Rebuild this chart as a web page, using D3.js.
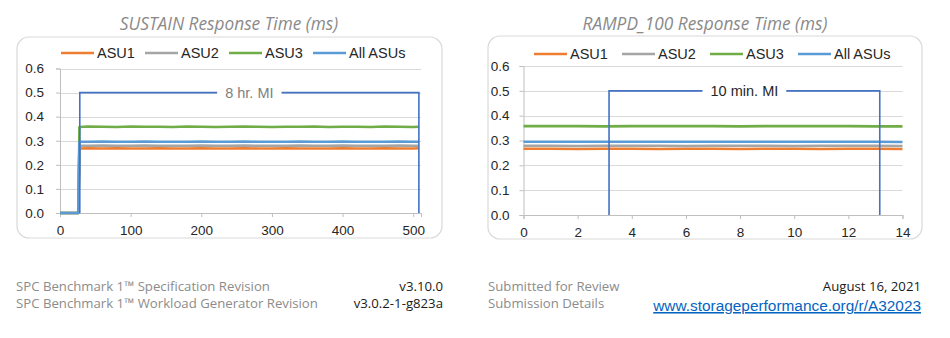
<!DOCTYPE html>
<html>
<head>
<meta charset="utf-8">
<script src="https://cdn.jsdelivr.net/npm/d3@7/dist/d3.min.js"></script>
<style>
  html, body { margin: 0; padding: 0; background: #ffffff; }
  svg { display: block; }
</style>
</head>
<body>
<svg id="chart" width="950" height="338"></svg>
<script>
// ---- Data ---------------------------------------------------------------
const seriesNames = ["ASU1", "ASU2", "ASU3", "All ASUs"];
const seriesColors = ["#ED7D31", "#A5A5A5", "#70AD47", "#5B9BD5"];

// SUSTAIN phase, elapsed minutes
const sustainTime = [0, 26, 27.5, 40, 60, 80, 100, 120, 140, 160, 180, 200, 220, 240,
  260, 280, 300, 320, 340, 360, 380, 400, 420, 440, 460, 480, 500, 508];
const sustainASU1 = [0, 0, 0.268, 0.269, 0.268, 0.269, 0.268, 0.268, 0.269, 0.268, 0.268,
  0.269, 0.268, 0.268, 0.269, 0.268, 0.268, 0.269, 0.268, 0.268, 0.268, 0.269, 0.268,
  0.268, 0.269, 0.268, 0.268, 0.269];
const sustainASU2 = [0, 0, 0.279, 0.279, 0.280, 0.279, 0.279, 0.280, 0.279, 0.279, 0.279,
  0.280, 0.279, 0.279, 0.280, 0.279, 0.279, 0.279, 0.280, 0.279, 0.279, 0.280, 0.279,
  0.279, 0.279, 0.280, 0.279, 0.279];
const sustainASU3 = [0, 0, 0.357, 0.359, 0.358, 0.357, 0.359, 0.358, 0.358, 0.357, 0.359,
  0.358, 0.357, 0.358, 0.359, 0.358, 0.357, 0.358, 0.358, 0.359, 0.357, 0.358, 0.358,
  0.357, 0.359, 0.358, 0.357, 0.358];
const sustainAll = [0, 0, 0.296, 0.296, 0.297, 0.296, 0.296, 0.297, 0.296, 0.296, 0.296,
  0.297, 0.296, 0.296, 0.297, 0.296, 0.296, 0.296, 0.297, 0.296, 0.296, 0.297, 0.296,
  0.296, 0.296, 0.297, 0.296, 0.296];
const sustainMI = [28, 508];
const sustainTicks = [0, 100, 200, 300, 400, 500];

// RAMPD_100 phase, elapsed minutes
const rampTime = [0, 1, 2, 3, 4, 5, 6, 7, 8, 9, 10, 11, 12, 13, 14];
const rampASU1 = [0.267, 0.267, 0.266, 0.267, 0.267, 0.266, 0.267, 0.267, 0.266, 0.267,
  0.267, 0.266, 0.267, 0.267, 0.266];
const rampASU2 = [0.279, 0.279, 0.278, 0.279, 0.279, 0.279, 0.278, 0.279, 0.279, 0.279,
  0.278, 0.279, 0.279, 0.279, 0.278];
const rampASU3 = [0.358, 0.358, 0.358, 0.357, 0.358, 0.358, 0.358, 0.358, 0.357, 0.358,
  0.358, 0.358, 0.358, 0.357, 0.357];
const rampAll = [0.295, 0.295, 0.295, 0.295, 0.295, 0.295, 0.295, 0.295, 0.295, 0.295,
  0.295, 0.295, 0.295, 0.295, 0.294];
const rampMI = [3.16, 13.16];
const rampTicks = [0, 2, 4, 6, 8, 10, 12, 14];

const yTicks = [0, 0.1, 0.2, 0.3, 0.4, 0.5, 0.6];
const miLevel = 0.5;

// ---- Drawing ------------------------------------------------------------
const svg = d3.select("#chart");
svg.append("rect").attr("width", 950).attr("height", 338).attr("fill", "#ffffff");

const AXIS_FONT = "Liberation Sans, Arial, sans-serif";
const BODY_FONT = "Open Sans, Lato, sans-serif";

function drawPanel(p) {
  const g = svg.append("g");

  // frame
  g.append("rect")
    .attr("x", p.box[0]).attr("y", p.box[1])
    .attr("width", p.box[2]).attr("height", p.box[3])
    .attr("rx", 12).attr("ry", 12)
    .attr("fill", "#ffffff").attr("stroke", "#d9d9d9").attr("stroke-width", 1.2);

  // title
  g.append("text")
    .attr("x", p.titleX).attr("y", p.titleY)
    .attr("text-anchor", "middle")
    .attr("font-family", BODY_FONT).attr("font-style", "italic")
    .attr("font-size", p.titleSize).attr("fill", "#8a8a8a")
    .text(p.title);

  const x = d3.scaleLinear().domain(p.xDomain).range([p.plot[0], p.plot[1]]);
  const y = d3.scaleLinear().domain([0, 0.6]).range([p.plot[3], p.plot[2]]);

  // horizontal gridlines
  g.append("g").selectAll("line").data(yTicks.slice(1)).join("line")
    .attr("x1", p.plot[0]).attr("x2", p.plot[1])
    .attr("y1", d => Math.round(y(d)) + 0.5).attr("y2", d => Math.round(y(d)) + 0.5)
    .attr("stroke", "#d9d9d9").attr("stroke-width", 1);

  // y axis
  const yAxis = g.append("g")
    .attr("transform", `translate(${p.plot[0]},0)`)
    .call(d3.axisLeft(y).tickValues(yTicks).tickFormat(d3.format(".1f"))
      .tickSize(4).tickPadding(p.yPad));
  // x axis
  const xAxis = g.append("g")
    .attr("transform", `translate(0,${p.plot[3]})`)
    .call(d3.axisBottom(x).tickValues(p.xTicks).tickFormat(d3.format("d"))
      .tickSize(4).tickPadding(5));
  [yAxis, xAxis].forEach(a => {
    a.select(".domain").attr("stroke", "#bfbfbf");
    a.selectAll(".tick line").attr("stroke", "#bfbfbf");
    a.selectAll(".tick text")
      .attr("font-family", AXIS_FONT).attr("font-size", 13.5).attr("fill", "#262626");
  });
  xAxis.selectAll(".tick text").attr("dy", "0.95em");

  // series lines
  const line = d3.line().x(d => x(d[0])).y(d => y(d[1]));
  p.series.forEach((vals, i) => {
    g.append("path")
      .datum(p.time.map((t, k) => [t, vals[k]]))
      .attr("d", line)
      .attr("fill", "none")
      .attr("stroke", seriesColors[i])
      .attr("stroke-width", 2.6)
      .attr("stroke-linejoin", "round");
  });

  // measurement interval bracket
  const mi = [[p.mi[0], 0], [p.mi[0], miLevel], [p.mi[1], miLevel], [p.mi[1], 0]];
  g.append("path")
    .datum(mi)
    .attr("d", line)
    .attr("fill", "none")
    .attr("stroke", "#4472C4")
    .attr("stroke-width", 1.6);

  const midX = x((p.mi[0] + p.mi[1]) / 2);
  const lbl = g.append("text")
    .attr("x", midX).attr("y", y(miLevel))
    .attr("dy", "0.35em")
    .attr("text-anchor", "middle")
    .attr("font-family", AXIS_FONT).attr("font-size", 14.5)
    .attr("fill", p.miColor)
    .text(p.miLabel);
  const bb = lbl.node().getBBox();
  g.insert("rect", () => lbl.node())
    .attr("x", bb.x - 8).attr("y", bb.y)
    .attr("width", bb.width + 16).attr("height", bb.height)
    .attr("fill", "#ffffff");

  // legend
  const leg = g.append("g");
  seriesNames.forEach((name, i) => {
    const lx = p.legendX + i * p.legendStep;
    leg.append("line")
      .attr("x1", lx).attr("x2", lx + 33)
      .attr("y1", p.legendY).attr("y2", p.legendY)
      .attr("stroke", seriesColors[i]).attr("stroke-width", 2.6);
    leg.append("text")
      .attr("x", lx + 36).attr("y", p.legendY)
      .attr("dy", "0.36em")
      .attr("font-family", AXIS_FONT).attr("font-size", 14.5)
      .attr("fill", "#262626")
      .text(name);
  });
}

drawPanel({
  title: "SUSTAIN Response Time (ms)", titleX: 229, titleY: 30, titleSize: 17.3,
  box: [17, 37, 425, 201],
  plot: [60, 421, 68.5, 213],
  xDomain: [0, 511], xTicks: sustainTicks, yPad: 12,
  time: sustainTime,
  series: [sustainASU1, sustainASU2, sustainASU3, sustainAll],
  mi: sustainMI, miLabel: "8 hr. MI", miColor: "#7f7f7f",
  legendX: 61, legendY: 53, legendStep: 84
});

drawPanel({
  title: "RAMPD_100 Response Time (ms)", titleX: 705, titleY: 30, titleSize: 17.3,
  box: [488, 36, 434, 203],
  plot: [523.5, 902.5, 66, 215],
  xDomain: [0, 14], xTicks: rampTicks, yPad: 10,
  time: rampTime,
  series: [rampASU1, rampASU2, rampASU3, rampAll],
  mi: rampMI, miLabel: "10 min. MI", miColor: "#262626",
  legendX: 534, legendY: 54, legendStep: 88
});

// ---- Submission details -------------------------------------------------
const infoLabels = ["SPC Benchmark 1\u2122 Specification Revision",
  "SPC Benchmark 1\u2122 Workload Generator Revision"];
const infoValues = ["v3.10.0", "v3.0.2-1-g823a"];
const reviewLabels = ["Submitted for Review", "Submission Details"];
const reviewDate = "August 16, 2021";
const reviewLink = "www.storageperformance.org/r/A32023";

const rows = [291, 308];
const info = svg.append("g")
  .attr("font-family", BODY_FONT).attr("font-size", 13.2);
infoLabels.forEach((t, i) => {
  info.append("text").attr("x", 16).attr("y", rows[i]).attr("fill", "#8c8c8c").text(t);
});
infoValues.forEach((t, i) => {
  info.append("text").attr("x", 443).attr("y", rows[i])
    .attr("text-anchor", "end").attr("fill", "#1a1a1a").text(t);
});
reviewLabels.forEach((t, i) => {
  info.append("text").attr("x", 488).attr("y", rows[i]).attr("fill", "#8c8c8c").text(t);
});
info.append("text").attr("x", 921).attr("y", rows[0])
  .attr("text-anchor", "end").attr("fill", "#1a1a1a").text(reviewDate);
info.append("text").attr("x", 921).attr("y", 311)
  .attr("text-anchor", "end")
  .attr("font-family", AXIS_FONT).attr("font-size", 15.4)
  .attr("fill", "#0563C1").attr("text-decoration", "underline")
  .text(reviewLink);
</script>
</body>
</html>
